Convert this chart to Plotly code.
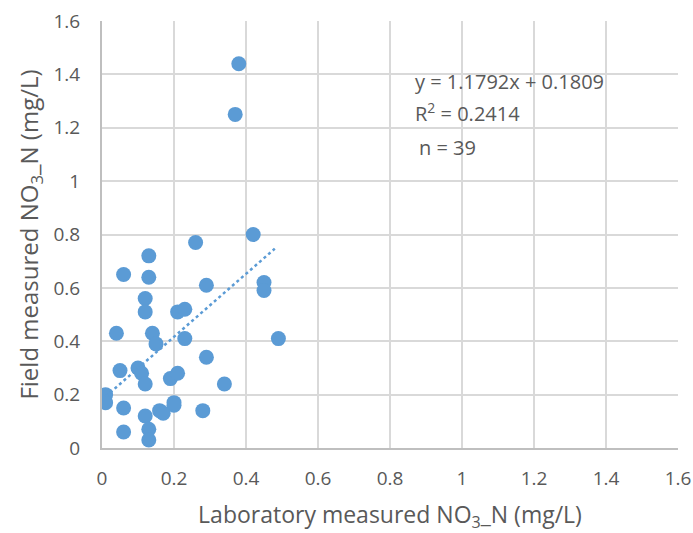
import plotly.graph_objects as go

lab_no3n = [0.42, 0.26, 0.13, 0.06, 0.13, 0.29, 0.45, 0.45, 0.12, 0.12,
            0.21, 0.23, 0.04, 0.14, 0.15, 0.23, 0.49, 0.29, 0.05, 0.10,
            0.11, 0.12, 0.19, 0.21, 0.34, 0.01, 0.01, 0.06, 0.20, 0.20,
            0.16, 0.17, 0.12, 0.28, 0.13, 0.06, 0.13, 0.38, 0.37]
field_no3n = [0.80, 0.77, 0.72, 0.65, 0.64, 0.61, 0.62, 0.59, 0.56, 0.51,
              0.51, 0.52, 0.43, 0.43, 0.39, 0.41, 0.41, 0.34, 0.29, 0.30,
              0.28, 0.24, 0.26, 0.28, 0.24, 0.20, 0.17, 0.15, 0.17, 0.16,
              0.14, 0.13, 0.12, 0.14, 0.07, 0.06, 0.03, 1.44, 1.25]

slope = 1.1792
intercept = 0.1809
r_squared = 0.2414
n_points = 39

tick_vals = [0, 0.2, 0.4, 0.6, 0.8, 1.0, 1.2, 1.4, 1.6]
tick_text = ["0", "0.2", "0.4", "0.6", "0.8", "1", "1.2", "1.4", "1.6"]

trend_x = [min(lab_no3n), 0.48]
trend_y = [slope * v + intercept for v in trend_x]

FONT = "Open Sans"
GREY = "#595959"

fig = go.Figure()
fig.add_trace(go.Scatter(
    x=lab_no3n, y=field_no3n, mode="markers",
    marker=dict(size=15, color="#5b9bd5"),
    showlegend=False))
fig.add_trace(go.Scatter(
    x=trend_x, y=trend_y, mode="lines",
    line=dict(color="#5b9bd5", width=2.5, dash="dot"),
    showlegend=False))

annos = [
    ("y = %.4fx + %.4f" % (slope, intercept), 0.864, 1.372),
    ("R<sup>2</sup> = %.4f" % r_squared, 0.864, 1.256),
    ("n = %d" % n_points, 0.874, 1.125),
]
for txt, ax_, ay_ in annos:
    fig.add_annotation(x=ax_, y=ay_, text=txt, showarrow=False,
                       xanchor="left", yanchor="middle",
                       font=dict(family=FONT, size=20, color=GREY))

axis_common = dict(
    range=[0, 1.6], tickvals=tick_vals, ticktext=tick_text,
    showgrid=True, gridcolor="#d9d9d9", gridwidth=1.5,
    zeroline=False, showline=True, linecolor="#bfbfbf", linewidth=2,
    mirror=False, ticks="",
    tickfont=dict(family=FONT, size=19, color=GREY),
)
fig.update_xaxes(**axis_common, ticklabelstandoff=12,
                 title=dict(text="Laboratory measured NO<sub>3</sub>_N (mg/L)",
                            font=dict(family=FONT, size=23, color=GREY),
                            standoff=18))
fig.update_yaxes(**axis_common, ticklabelstandoff=16,
                 title=dict(text="Field measured NO<sub>3</sub>_N (mg/L)",
                            font=dict(family=FONT, size=24, color=GREY),
                            standoff=8))

fig.update_layout(
    width=693, height=533,
    margin=dict(l=102, r=15, t=21, b=85, autoexpand=False),
    plot_bgcolor="white", paper_bgcolor="white",
)
fig.write_html("out.html", config={"displayModeBar": False},
               post_script="document.body.style.margin='0';")
